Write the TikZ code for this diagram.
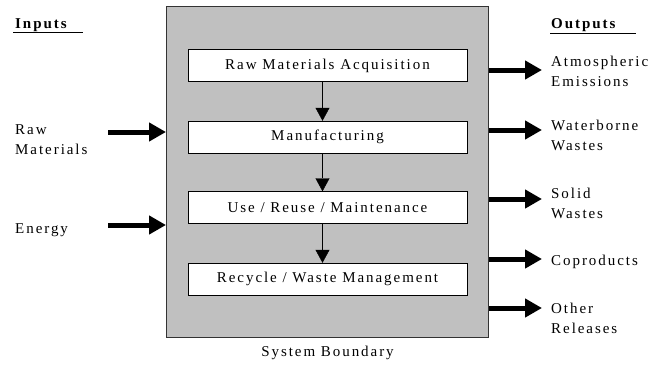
\documentclass[tikz,border=0pt]{standalone}
\usepackage{fontspec}
\setmainfont{Liberation Serif}[LetterSpace=13]
\usetikzlibrary{arrows.meta,positioning}
\definecolor{boundgray}{RGB}{192,192,192}

\begin{document}
\begin{tikzpicture}[x=1pt,y=-1pt,
  font=\fontsize{15}{20}\selectfont,
  stage/.style={draw, fill=white, minimum width=279pt, minimum height=32pt, inner sep=0pt},
  fatarrow/.style={line width=5pt, -{Triangle[length=17pt,width=18pt]}},
  flow/.style={-{Triangle[length=13pt,width=14pt]}},
  lbl/.style={anchor=base west, inner sep=0pt, align=left}]

  \useasboundingbox (0,0) rectangle (660,364);

  % System boundary
  \node (sys) [draw=black!80, line width=1pt, fill=boundgray, minimum width=322pt,
    minimum height=331pt, anchor=north west, inner sep=0pt] at (166,6) {};
  \node[below=5pt of sys] (sysname) {System Boundary};

  % Life cycle stages
  \node[stage] (acq) at (327.5,65.5) {Raw Materials Acquisition};
  \node[stage] (man) at (327.5,137) {Manufacturing};
  \node[stage] (use) at (327.5,207.5) {Use / Reuse / Maintenance};
  \node[stage] (rec) at (327.5,279) {Recycle / Waste Management};
  \foreach \a/\b in {acq/man, man/use, use/rec}
    \draw[flow] ([xshift=-5pt]\a.south) -- ([xshift=-5pt]\b.north);

  % Inputs
  \node[lbl, font=\fontsize{15}{20}\selectfont\bfseries] (inputs) at (15,28) {Inputs};
  \draw ([shift={(-2pt,-4pt)}]inputs.base west) -- ++(70,0);
  \node[lbl] (raw) at (15,154) {Raw\\Materials};
  \node[lbl] (energy) at (15,233) {Energy};
  \foreach \y/\n in {132/rawin, 225/enin} {
    \coordinate (\n) at (108,\y);
    \draw[fatarrow] (\n) -- (\n -| sys.west);
  }

  % Outputs
  \node[lbl, font=\fontsize{15}{20}\selectfont\bfseries] (outputs) at (551,28) {Outputs};
  \draw ([shift={(-1pt,-5pt)}]outputs.base west) -- ++(86,0);
  \node[lbl] (atm) at (551,86) {Atmospheric\\Emissions};
  \node[lbl] (wat) at (551,150) {Waterborne\\Wastes};
  \node[lbl] (sol) at (551,218) {Solid\\Wastes};
  \node[lbl] (cop) at (551,265) {Coproducts};
  \node[lbl] (oth) at (551,333) {Other\\Releases};
  \foreach \y/\n in {70/atmout, 130/watout, 199/solout, 259/copout, 308/othout} {
    \coordinate (\n) at (542,\y);
    \draw[fatarrow] (\n -| sys.east) -- (\n);
  }

\end{tikzpicture}
\end{document}
